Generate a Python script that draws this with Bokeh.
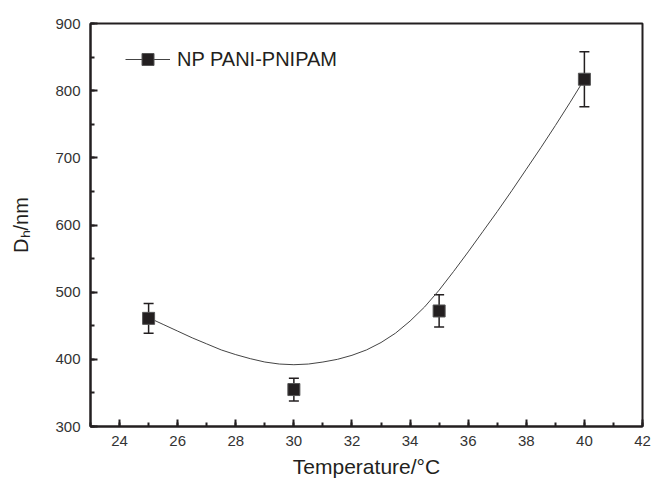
from bokeh.plotting import figure
from bokeh.models import (Range1d, SingleIntervalTicker, ColumnDataSource, Whisker,
                          TeeHead, Legend, LegendItem)
from bokeh.embed import file_html
from bokeh.resources import INLINE

# ---- data ----
temperature = [25, 30, 35, 40]
dh = [461, 355, 472, 817]
dh_err = [22, 17, 24, 41]

# smooth curve
fit_t = [25.0, 25.5, 26.0, 26.5, 27.0, 27.5, 28.0, 28.5, 29.0, 29.5, 30.0,
         30.5, 31.0, 31.5, 32.0, 32.5, 33.0, 33.5, 34.0, 34.5, 35.0,
         35.5, 36.0, 36.5, 37.0, 37.5, 38.0, 38.5, 39.0, 39.5, 40.0]
fit_dh = [462, 452, 442, 432, 423, 414, 407, 401, 396, 393, 392,
          393, 396, 400, 406, 414, 425, 439, 457, 478, 503,
          531, 560, 590, 620, 651, 683, 715, 748, 782, 817]

series_name = "NP PANI-PNIPAM"
x_title = "Temperature/°C"
y_title = "D\u2095/nm"

FONT = "Liberation Sans"
INK = "#231f20"

W, H = 652, 486
p = figure(width=W, height=H, output_backend="svg", toolbar_location=None,
           x_range=Range1d(23, 42), y_range=Range1d(300, 900),
           min_border_left=90, min_border_right=10, min_border_top=23,
           min_border_bottom=60)
p.grid.visible = False
p.outline_line_color = INK
p.outline_line_width = 2
p.background_fill_color = "white"
p.border_fill_color = "white"

p.xaxis.ticker = SingleIntervalTicker(interval=2, num_minor_ticks=2)
p.yaxis.ticker = SingleIntervalTicker(interval=100, num_minor_ticks=2)
for ax in (p.xaxis, p.yaxis):
    ax.axis_line_color = INK
    ax.axis_line_width = 2
    ax.major_tick_line_color = INK
    ax.minor_tick_line_color = INK
    ax.major_tick_line_width = 2
    ax.minor_tick_line_width = 2
    ax.major_tick_in = 7
    ax.major_tick_out = 0
    ax.minor_tick_in = 4
    ax.minor_tick_out = 0
    ax.major_label_text_font = FONT
    ax.major_label_text_font_size = "15px"
    ax.major_label_text_color = "#333333"
    ax.axis_label_text_font = FONT
    ax.axis_label_text_font_size = "20px"
    ax.axis_label_text_font_style = "normal"
    ax.axis_label_text_color = INK
p.xaxis.axis_label_text_font_size = "21px"
p.xaxis.major_label_standoff = 9
p.yaxis.major_label_standoff = 10
p.xaxis.axis_label = x_title
p.yaxis.axis_label = y_title
p.xaxis.axis_label_standoff = 6
p.yaxis.axis_label_standoff = 20

curve_src = ColumnDataSource(dict(t=fit_t, d=fit_dh))
pts_src = ColumnDataSource(dict(t=temperature, d=dh,
                                lo=[a - b for a, b in zip(dh, dh_err)],
                                hi=[a + b for a, b in zip(dh, dh_err)]))

curve = p.line("t", "d", source=curve_src, line_color="#444444", line_width=1)
whisk = Whisker(base="t", lower="lo", upper="hi", source=pts_src,
                line_color=INK, line_width=1.5,
                upper_head=TeeHead(size=10, line_color=INK, line_width=1.5),
                lower_head=TeeHead(size=10, line_color=INK, line_width=1.5))
p.add_layout(whisk)
pts = p.scatter("t", "d", source=pts_src, marker="square", size=12,
                fill_color=INK, line_color="#555555", line_width=1)

legend = Legend(items=[LegendItem(label=series_name, renderers=[curve, pts])],
                location=(35, 352), glyph_width=45, glyph_height=30,
                label_standoff=7, label_text_font=FONT, label_text_font_size="20px",
                label_text_color=INK, padding=0, margin=0, spacing=0,
                border_line_color=None, background_fill_alpha=0)
p.add_layout(legend)

open("out.html", "w").write(file_html(p, INLINE))
